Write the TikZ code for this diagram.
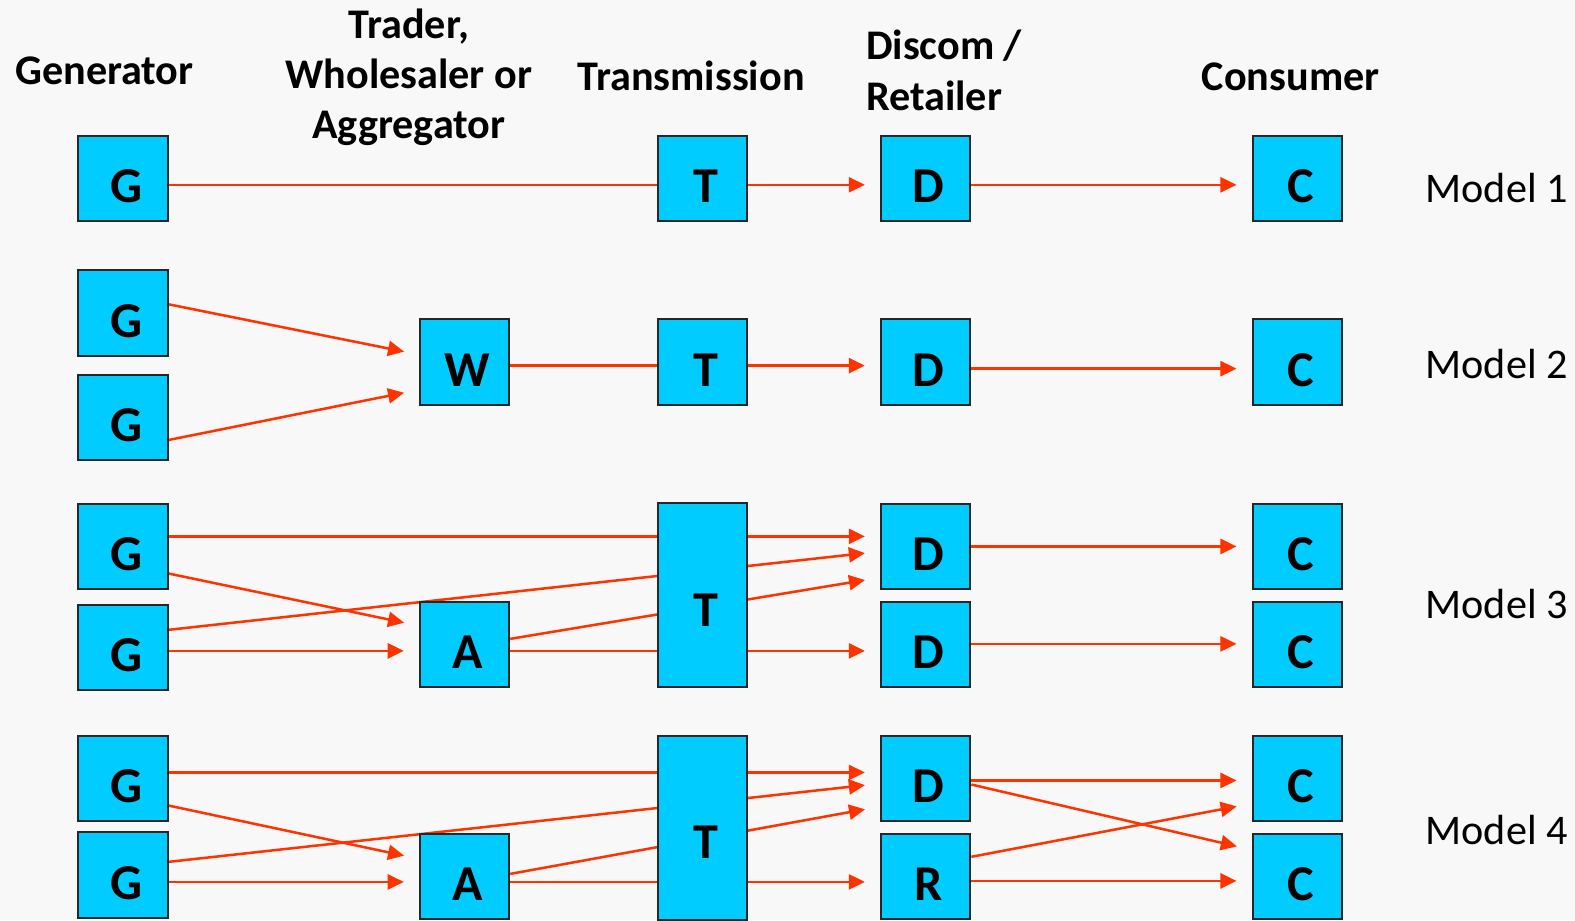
\documentclass[tikz,border=0pt]{standalone}
\usepackage{fontspec}
\setmainfont{Carlito}
\usetikzlibrary{calc,arrows.meta}
\pgfdeclarelayer{back}
\pgfdeclarelayer{wires}
\pgfsetlayers{back,wires,main}
\definecolor{boxfill}{HTML}{00CCFF}
\definecolor{wire}{HTML}{FF3300}
\definecolor{paper}{HTML}{F8F8F8}

\begin{document}
\begin{tikzpicture}[x=1pt,y=-1pt,
  unit/.style={draw=black!85, line width=2pt, fill=boxfill,
    minimum width=89pt, minimum height=85pt, inner sep=0pt,
    text height=48pt, text depth=0pt,
    font=\fontsize{50}{50}\selectfont\bfseries,
    execute at begin node={\hspace*{6pt}}},
  tallunit/.style={unit, minimum height=183pt, text height=62pt},
  head/.style={font=\fontsize{42}{50}\selectfont\bfseries, align=center, inner sep=0pt},
  model/.style={font=\fontsize{42}{48}\selectfont, anchor=west, inner sep=0pt},
  link/.style={draw=wire, line width=2.5pt},
  flow/.style={link, -{Triangle[length=16pt,width=15pt]}, shorten >=15pt},
]
\useasboundingbox (0,0) rectangle (1568,916);
\begin{pgfonlayer}{back}
  \fill[paper] (0,0) rectangle (1568,916);
\end{pgfonlayer}

% column headings
\node[head] (hgen) at (104,71) {Generator};
\node[head] (htrade) at (407,77) {Trader,\\Wholesaler or\\Aggregator};
\node[head] (htrans) at (688,76) {Transmission};
\node[head, align=left, anchor=west] (hdisc) at (862,70) {Discom /\\Retailer};
\node[head] (hcons) at (1285,76) {Consumer};

% model labels
\node[model] (m1) at (1419,187) {Model 1};
\node[model] (m2) at (1419,362) {Model 2};
\node[model] (m3) at (1419,601) {Model 3};
\node[model] (m4) at (1419,826) {Model 4};

% Model 1
\node[unit] (g1) at (122.5,177.5) {G};
\node[unit] (t1) at (699.5,177.5) {T};
\node[unit] (d1) at (921.5,177.5) {D};
\node[unit] (c1) at (1291.5,177.5) {C};

% Model 2
\node[unit] (g2a) at (122.5,311.5) {G};
\node[unit] (g2b) at (122.5,415.5) {G};
\node[unit] (w2) at (462.5,360.5) {W};
\node[unit] (t2) at (699.5,360.5) {T};
\node[unit] (d2) at (921.5,360.5) {D};
\node[unit] (c2) at (1291.5,360.5) {C};

% Model 3
\node[unit] (g3a) at (122.5,544) {G};
\node[unit] (g3b) at (122.5,644.5) {G};
\node[unit] (a3) at (462.5,641.5) {A};
\node[tallunit] (t3) at (699.5,592.5) {T};
\node[unit] (d3a) at (921.5,544) {D};
\node[unit] (d3b) at (921.5,641.5) {D};
\node[unit] (c3a) at (1291.5,544) {C};
\node[unit] (c3b) at (1291.5,641.5) {C};

% Model 4
\node[unit] (g4a) at (122.5,775) {G};
\node[unit] (g4b) at (122.5,871) {G};
\node[unit] (a4) at (462.5,872.5) {A};
\node[tallunit] (t4) at (699.5,824) {T};
\node[unit] (d4) at (921.5,775) {D};
\node[unit] (r4) at (921.5,872.5) {R};
\node[unit] (c4a) at (1291.5,775) {C};
\node[unit] (c4b) at (1291.5,872.5) {C};

\begin{pgfonlayer}{wires}
  % Model 1
  \draw[link] ($(g1.east)+(0,6.5)$) -- ($(t1.west)+(0,6.5)$);
  \draw[flow] ($(t1.east)+(0,6.5)$) -- ($(d1.west)+(0,6.5)$);
  \draw[flow] ($(d1.east)+(0,6.5)$) -- ($(c1.west)+(0,6.5)$);

  % Model 2
  \draw[flow] ($(g2a.east)+(0,-8.5)$) -- ($(w2.west)+(0,-7.5)$);
  \draw[flow] ($(g2b.east)+(0,22.5)$) -- ($(w2.west)+(0,27.5)$);
  \draw[link] ($(w2.east)+(0,3.5)$) -- ($(t2.west)+(0,3.5)$);
  \draw[flow] ($(t2.east)+(0,3.5)$) -- ($(d2.west)+(0,3.5)$);
  \draw[flow] ($(d2.east)+(0,6.5)$) -- ($(c2.west)+(0,6.5)$);

  % Model 3
  \draw[flow] ($(g3a.east)+(0,-10)$) -- ($(d3a.west)+(0,-10)$);
  \draw[flow] ($(g3a.east)+(0,27)$) -- ($(a3.west)+(0,-18.5)$);
  \draw[flow] ($(g3b.east)+(0,-17.5)$) -- ($(d3a.west)+(0,5)$);
  \draw[flow] ($(g3b.east)+(0,3.5)$) -- ($(a3.west)+(0,6.5)$);
  \draw[flow] ($(a3.east)+(0,-5.5)$) -- ($(d3a.west)+(0,31)$);
  \draw[link] ($(a3.east)+(0,6.5)$) -- ($(t3.west)+(0,55.5)$);
  \draw[flow] ($(t3.east)+(0,55.5)$) -- ($(d3b.west)+(0,6.5)$);
  \draw[flow] (d3a.east) -- (c3a.west);
  \draw[flow] ($(d3b.east)+(0,-0.5)$) -- ($(c3b.west)+(0,-0.5)$);

  % Model 4
  \draw[flow] ($(g4a.east)+(0,-6)$) -- ($(d4.west)+(0,-6)$);
  \draw[flow] ($(g4a.east)+(0,27)$) -- ($(a4.west)+(0,-17.5)$);
  \draw[flow] ($(g4b.east)+(0,-13)$) -- ($(d4.west)+(0,5)$);
  \draw[flow] ($(g4b.east)+(0,7)$) -- ($(a4.west)+(0,5.5)$);
  \draw[flow] ($(a4.east)+(0,-2.5)$) -- ($(d4.west)+(0,28)$);
  \draw[link] ($(a4.east)+(0,5.5)$) -- ($(t4.west)+(0,54)$);
  \draw[flow] ($(t4.east)+(0,54)$) -- ($(r4.west)+(0,5.5)$);
  \draw[flow] ($(d4.east)+(0,2)$) -- ($(c4a.west)+(0,2)$);
  \draw[flow] ($(d4.east)+(0,6)$) -- ($(c4b.west)+(0,-26.5)$);
  \draw[flow] ($(r4.east)+(0,-19.5)$) -- ($(c4a.west)+(0,25)$);
  \draw[flow] ($(r4.east)+(0,4.5)$) -- ($(c4b.west)+(0,4.5)$);
\end{pgfonlayer}
\end{tikzpicture}
\end{document}
